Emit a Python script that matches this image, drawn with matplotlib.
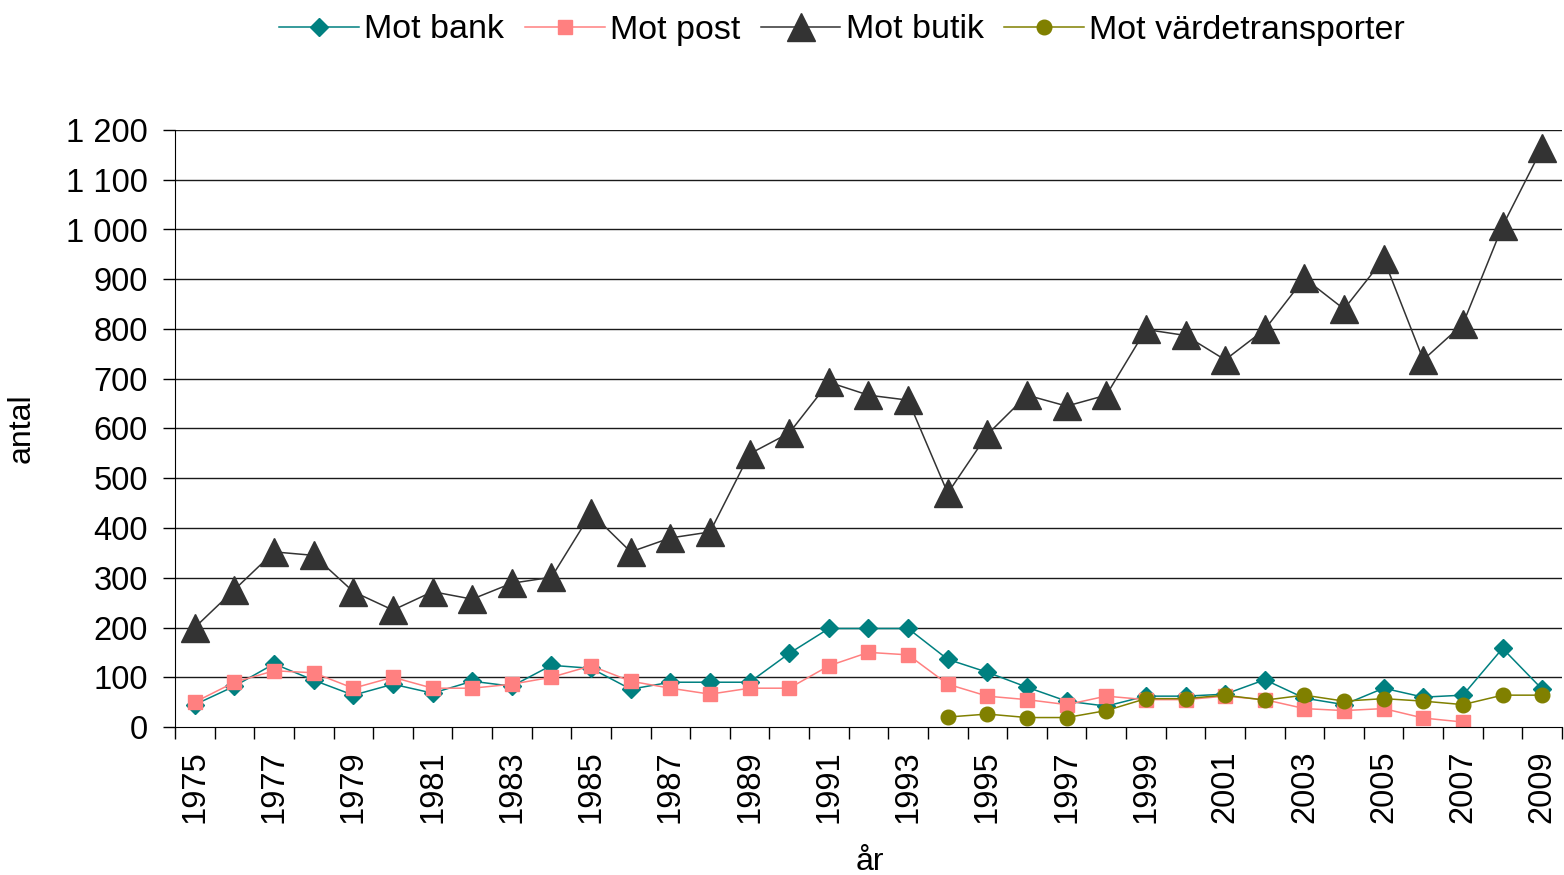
"""Rån mot bank, post, butik och värdetransporter 1975–2009."""

import matplotlib
matplotlib.use("Agg")
import matplotlib.pyplot as plt
import numpy as np
from matplotlib.ticker import FixedLocator, FuncFormatter

plt.rcParams['font.family'] = ['Liberation Sans', 'DejaVu Sans']

years = list(range(1975, 2010))

# values
bank = [45, 82, 127, 94, 64, 86, 68, 92, 82, 124, 118, 76, 90, 90, 90, 148,
        198, 198, 198, 136, 110, 80, 52, 42, 62, 62, 66, 95, 58, 45, 78, 60,
        64, 158, 76]
post = [50, 90, 113, 109, 78, 100, 78, 78, 86, 100, 123, 92, 78, 66, 78, 78,
        123, 150, 145, 86, 62, 55, 45, 62, 55, 55, 62, 55, 37, 33, 37, 18,
        10, None, None]
butik = [200, 276, 352, 345, 272, 235, 272, 257, 289, 301, 430, 352, 380,
         392, 549, 591, 693, 667, 657, 470, 588, 667, 645, 667, 799, 787,
         738, 799, 902, 840, 941, 738, 810, 1007, 1164]
varde = [None] * 19 + [20, 26, 19, 19, 33, 57, 57, 64, 54, 64, 52, 57, 52,
                       45, 64, 64]

series = [
    ("Mot bank", bank, "#008080", "D", 9.5),
    ("Mot post", post, "#FF8080", "s", 10),
    ("Mot butik", butik, "#333333", "^", 20),
    ("Mot värdetransporter", varde, "#808000", "o", 10.5),
]

W, H = 1564, 875
fig = plt.figure(figsize=(W / 100, H / 100), dpi=100)
ax = fig.add_axes([175 / W, (H - 727) / H, (1562 - 175) / W, (727 - 130) / H])

x = np.arange(len(years))
for name, vals, col, mk, ms in series:
    y = np.array([np.nan if v is None else v for v in vals], dtype=float)
    ax.plot(x, y, color=col, lw=1.1, marker=mk, markersize=ms,
            markerfacecolor=col, markeredgecolor=col, label=name)

ax.set_xlim(-0.5, len(years) - 0.5)
ax.set_ylim(0, 1200)

# y axis
ax.yaxis.set_major_locator(FixedLocator(np.arange(0, 1201, 100)))
ax.yaxis.set_major_formatter(FuncFormatter(lambda v, p: f"{int(v):,}".replace(",", " ")))
ax.tick_params(axis="y", direction="out", length=8.5, width=1, pad=11, labelsize=23.5)
for v in range(100, 1201, 100):
    ax.axhline(v, color="#1a1a1a", lw=1.0, zorder=0)

# x axis: ticks between categories, labels on every other year
ax.xaxis.set_major_locator(FixedLocator(x[::2]))
ax.set_xticklabels([str(years[i]) for i in x[::2]], rotation=90)
ax.xaxis.set_minor_locator(FixedLocator(np.arange(-0.5, len(years), 1)))
ax.tick_params(axis="x", which="major", length=0, pad=17, labelsize=23.5)
ax.tick_params(axis="x", which="minor", direction="out", length=8.5, width=1)

for s in ["top", "right"]:
    ax.spines[s].set_visible(False)
ax.spines["left"].set_color("black")
ax.spines["bottom"].set_color("black")

ax.set_ylabel("antal", fontsize=23)
ax.yaxis.set_label_coords(-0.1, 0.5)
fig.text(870 / W, 1 - 862 / H, "år", ha="center", va="center", fontsize=23)

fig.legend(loc="center", bbox_to_anchor=(842 / W, 1 - 30 / H), ncol=4,
           frameon=False, fontsize=24.5, handlelength=2.35, handletextpad=0.15,
           columnspacing=0.6)

fig.savefig("out.png", dpi=100)
